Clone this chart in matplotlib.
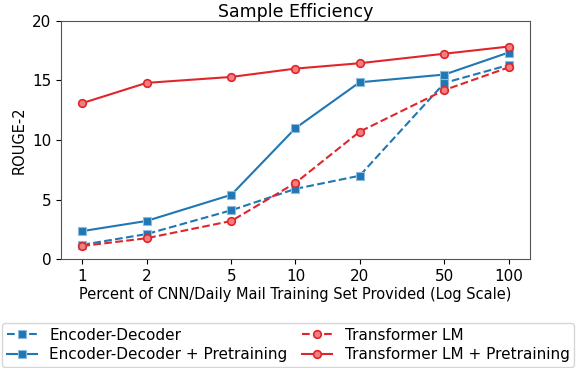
import matplotlib.pyplot as plt
import numpy as np

# percent of training set
pct = [1, 2, 5, 10, 20, 50, 100]

enc_dec = [1.2, 2.1, 4.1, 5.9, 7.0, 14.8, 16.3]
enc_dec_pre = [2.35, 3.2, 5.4, 11.0, 14.85, 15.5, 17.35]
tlm = [1.1, 1.75, 3.2, 6.4, 10.7, 14.2, 16.1]
tlm_pre = [13.1, 14.8, 15.3, 16.0, 16.45, 17.25, 17.85]

blue = '#1f77b4'
red = '#e0262b'

fig = plt.figure(figsize=(5.76, 3.68), dpi=100)
ax = fig.add_axes([0.106, 0.296, 0.814, 0.647])

ax.plot(pct, enc_dec, '--', color=blue, marker='s', ms=5.5, mfc=blue, mec='#8fbbdc', mew=0.8, lw=1.5,
        label='Encoder-Decoder')
ax.plot(pct, enc_dec_pre, '-', color=blue, marker='s', ms=5.5, mfc=blue, mec='#8fbbdc', mew=0.8, lw=1.5,
        label='Encoder-Decoder + Pretraining')
ax.plot(pct, tlm, '--', color=red, marker='o', ms=5.5, mfc='#f08080', mec=red, mew=1.2, lw=1.5,
        label='Transformer LM')
ax.plot(pct, tlm_pre, '-', color=red, marker='o', ms=5.5, mfc='#f08080', mec=red, mew=1.2, lw=1.5,
        label='Transformer LM + Pretraining')

ax.set_xscale('log')
ax.set_xticks(pct)
ax.set_xticklabels([str(p) for p in pct])
ax.minorticks_off()
ax.set_ylim(0, 20)
ax.set_yticks([0, 5, 10, 15, 20])
ax.tick_params(labelsize=11)
for s in ax.spines.values():
    s.set_color('#555555')

ax.set_title('Sample Efficiency', fontsize=12.5, pad=2)
ax.set_xlabel('Percent of CNN/Daily Mail Training Set Provided (Log Scale)', fontsize=10.5, labelpad=2)
ax.set_ylabel('ROUGE-2', fontsize=10.5)

ax.legend(loc='lower left', bbox_to_anchor=(0.0035, 0.003, 0.993, 0.127),
          bbox_transform=fig.transFigure, ncol=2, fontsize=11, mode='expand',
          borderaxespad=0.0, handlelength=2.0, labelspacing=0.3, borderpad=0.3)

fig.savefig('out.png', dpi=100)
